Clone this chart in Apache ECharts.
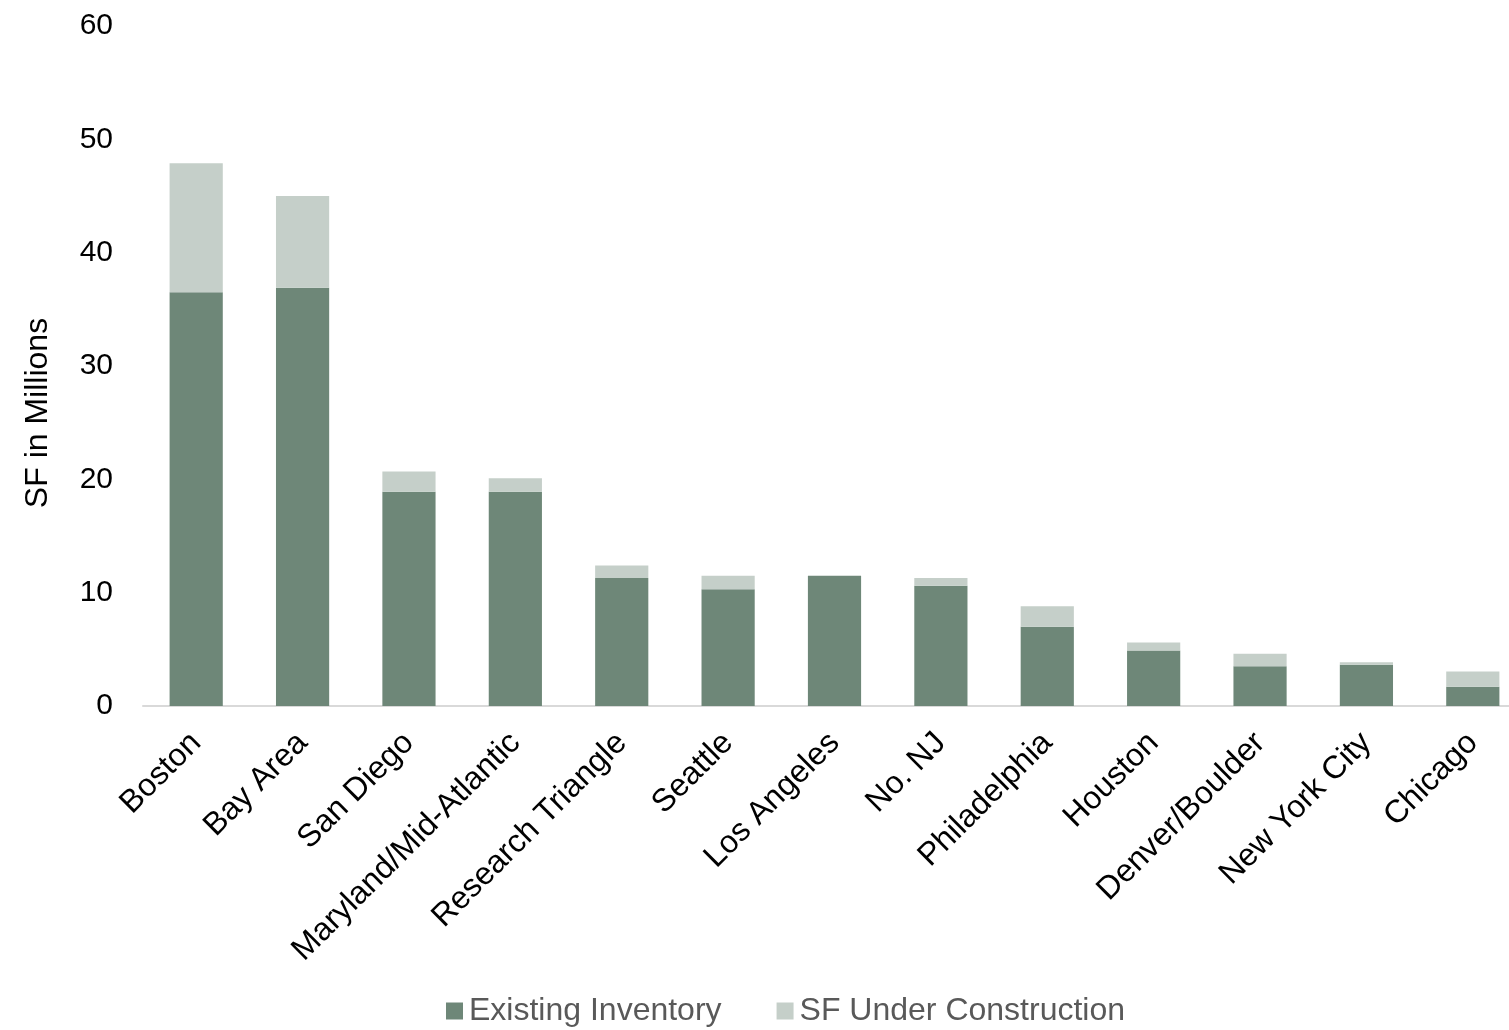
<!DOCTYPE html>
<html>
<head>
<meta charset="utf-8">
<title>Life Science Inventory by Market</title>
<script src="https://cdn.jsdelivr.net/npm/echarts@6/dist/echarts.min.js"></script>
<style>
  html, body { margin: 0; padding: 0; background: #ffffff; }
  #chart { width: 1509px; height: 1030px; }
</style>
</head>
<body>
<div id="chart"></div>
<script>
// Markets, in descending order of total square footage
const markets = [
  'Boston', 'Bay Area', 'San Diego', 'Maryland/Mid-Atlantic', 'Research Triangle',
  'Seattle', 'Los Angeles', 'No. NJ', 'Philadelphia', 'Houston',
  'Denver/Boulder', 'New York City', 'Chicago'
];

// Square feet, in millions
const existingInventory = [36.5, 36.9, 18.9, 18.9, 11.3, 10.3, 11.5, 10.6, 7.0, 4.9, 3.5, 3.65, 1.7];
const underConstruction = [11.4, 8.1, 1.8, 1.2, 1.1, 1.2, 0, 0.7, 1.8, 0.7, 1.1, 0.2, 1.35];

const yTicks = { min: 0, max: 60, interval: 10 };

const seriesNames = ['Existing Inventory', 'SF Under Construction'];
const seriesColors = ['#6E8778', '#C5CFC9'];

const FONT = '"Liberation Sans", Arial, sans-serif';

const chart = echarts.init(document.getElementById('chart'), null, { renderer: 'canvas' });

chart.setOption({
  animation: false,
  backgroundColor: '#ffffff',
  textStyle: { fontFamily: FONT },
  // the last category runs slightly past the right edge of the canvas
  grid: { left: 143, width: 1383, top: 26, bottom: 324, containLabel: false, outerBoundsMode: 'none' },
  legend: {
    left: 441,
    top: 990,
    icon: 'rect',
    itemWidth: 17,
    itemHeight: 17,
    itemGap: 55,
    textStyle: { fontFamily: FONT, fontSize: 32, color: '#595959', padding: [0, 0, 0, 1] },
    data: seriesNames
  },
  xAxis: {
    type: 'category',
    data: markets,
    axisLine: { show: true, lineStyle: { color: '#D9D9D9', width: 2 } },
    axisTick: { show: false },
    axisLabel: {
      interval: 0,
      rotate: 45,
      margin: 32,
      fontFamily: FONT,
      fontSize: 32,
      color: '#000000'
    }
  },
  yAxis: {
    type: 'value',
    min: yTicks.min,
    max: yTicks.max,
    interval: yTicks.interval,
    name: 'SF in Millions',
    nameLocation: 'middle',
    nameRotate: 90,
    nameGap: 89,
    nameTextStyle: { fontFamily: FONT, fontSize: 32, color: '#000000', padding: [0, 94, 0, 0] },
    splitLine: { show: false },
    axisLine: { show: false },
    axisTick: { show: false },
    axisLabel: { margin: 30, fontFamily: FONT, fontSize: 30, color: '#000000' }
  },
  series: [
    {
      name: seriesNames[0],
      type: 'bar',
      stack: 'total',
      barWidth: '50%',
      itemStyle: { color: seriesColors[0] },
      data: existingInventory
    },
    {
      name: seriesNames[1],
      type: 'bar',
      stack: 'total',
      barWidth: '50%',
      itemStyle: { color: seriesColors[1] },
      data: underConstruction
    }
  ]
});
</script>
</body>
</html>
